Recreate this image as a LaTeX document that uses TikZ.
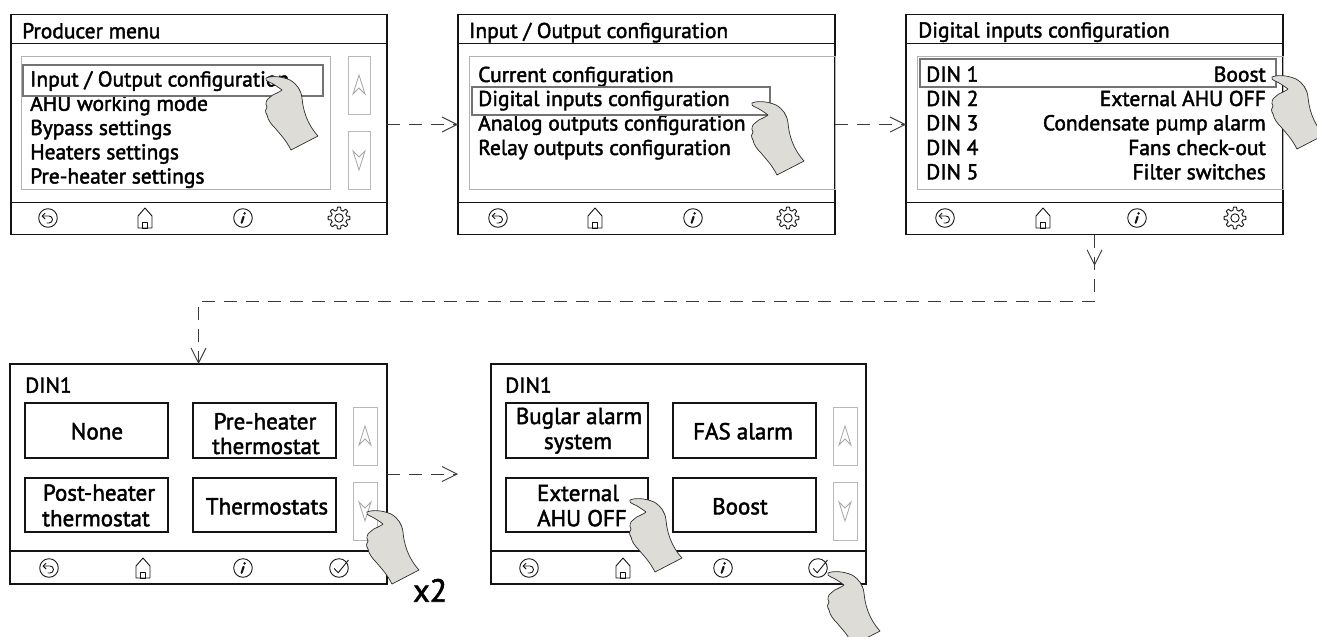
\documentclass[tikz,border=0pt]{standalone}
\usepackage{fontspec}
\setmainfont{PT Sans}[FakeBold=2]
\usetikzlibrary{arrows.meta,decorations.markings}

\definecolor{ink}{HTML}{141414}
\definecolor{handfill}{HTML}{DEDCD6}
\definecolor{flowgray}{HTML}{3A3A3A}

\begin{document}
\begin{tikzpicture}[x=1pt,y=1pt,
  panel/.style={draw=ink, line width=1.3pt, rectangle, inner sep=0pt, outer sep=0pt,
    minimum width=376pt, minimum height=220pt, anchor=north west},
  sepline/.style={draw=ink, line width=1pt},
  thicksep/.style={draw=ink, line width=2pt},
  listbox/.style={draw=black!30, line width=0.9pt},
  selbox/.style={draw=black!55, line width=2.6pt},
  scrollbox/.style={draw=black!28, line width=0.9pt},
  btn/.style={draw=ink, line width=1.2pt, rectangle, inner sep=0pt, outer sep=0pt,
    minimum width=143pt, minimum height=55pt, anchor=north west},
  menutxt/.style={anchor=base west, inner sep=0pt, font=\fontsize{21.5}{24}\selectfont, text=black},
  righttxt/.style={anchor=base east, inner sep=0pt, font=\fontsize{21.5}{24}\selectfont, text=black},
  btntxt/.style={anchor=base, inner sep=0pt, font=\fontsize{23}{25}\selectfont, text=black},
  icon/.style={draw=ink, line width=0.9pt, line join=round},
  flow/.style={draw=flowgray, line width=0.9pt, dash pattern=on 13pt off 9pt,
    -{Straight Barb[length=15pt,width=15pt,line width=0.9pt]}},
  flowline/.style={draw=flowgray, line width=0.9pt, dash pattern=on 13pt off 9pt},
  midbarb/.style={postaction={decorate}, decoration={markings,
    mark=at position 0.47 with {\arrow{Straight Barb[length=15pt,width=15pt,line width=0.9pt]}}}},
  backicon/.pic={
    \draw[icon] (0,0) circle (9.3);
    \draw[icon, {Straight Barb[length=3pt,width=6pt,line width=0.9pt]}-]
      (-6.5,2) -- (1,2) arc[start angle=90, end angle=-90, radius=3.5] -- (-1.5,-5);
  },
  homeicon/.pic={
    \draw[icon] (-7,-10) -- (-7,2) -- (0,10) -- (7,2) -- (7,-10) -- cycle;
    \draw[icon] (-2.5,-10) rectangle (2.5,-4);
  },
  infoicon/.pic={
    \draw[icon] (0,0) circle (9.3);
    \draw[ink, line width=2.1pt, line cap=round] (-1.4,-4.8) -- (0.6,1.3);
    \fill[ink] (1.6,4.6) circle (1.4);
  },
  gearicon/.pic={
    \draw[icon] plot[domain=0:360, samples=193, variable=\t]
      (\t:{9.4+1.5*max(-1,min(1,2.2*cos(8*\t)))}) -- cycle;
    \draw[icon] (0,0) circle (4.2);
  },
  checkicon/.pic={
    \draw[icon] (0,0) circle (9.3);
    \draw[icon] (-4.8,-0.5) -- (-0.8,-4.8) -- (9.5,8);
  },
  upglyph/.pic={
    \draw[draw=black!35, line width=0.8pt, line join=miter] (0,10) -- (6,-9) -- (0,-3) -- (-6,-9) -- cycle;
  },
  downglyph/.pic={
    \draw[draw=black!35, line width=0.8pt, line join=miter] (0,-10) -- (6,9) -- (0,3) -- (-6,9) -- cycle;
  },
  hand/.pic={
    \filldraw[fill=handfill, draw=ink!90, line width=0.7pt, line join=round]
      (0,0) .. controls (6,2.5) and (16,1.5) .. (24,-2)
      .. controls (31,-6) and (35,-12) .. (36,-20)
      .. controls (37,-32) and (41,-46) .. (52,-58)
      -- (25,-72)
      .. controls (20,-62) and (14,-56) .. (9,-50)
      .. controls (5,-46) and (2,-42) .. (1,-37)
      .. controls (-1,-34) and (-1,-31) .. (1,-29)
      .. controls (-1,-26) and (0,-22) .. (3,-20)
      .. controls (5,-18) and (8,-16) .. (11,-15)
      .. controls (13,-14) and (15,-13) .. (16,-12)
      .. controls (12,-9) and (7,-5.5) .. (3,-4)
      .. controls (1,-3.2) and (-1.5,-1.8) .. (0,0) -- cycle;
  }
]
\useasboundingbox (0,0) rectangle (1317,-637);

% ---------- Producer menu ----------
\node[panel] (p1) at (11,-14.5) {};
\draw[sepline] (11,-43) -- (387,-43);
\draw[sepline] (11,-202) -- (387,-202);
\draw[listbox] (21,-56) rectangle (330,-189);
\draw[scrollbox] (348,-56) rectangle (370,-114);
\draw[scrollbox] (348,-131) rectangle (370,-189);
\pic at (359,-85) {upglyph};
\pic at (359,-160) {downglyph};
\node[menutxt] (p1t) at (22,-38.3) {Producer menu};
\node[menutxt] (p1a) at (30,-86.5) {Input / Output configuration};
\node[menutxt] (p1b) at (30,-110.8) {AHU working mode};
\node[menutxt] (p1c) at (30,-135) {Bypass settings};
\node[menutxt] (p1d) at (30,-159.3) {Heaters settings};
\node[menutxt] (p1e) at (30,-183.5) {Pre-heater settings};
\draw[selbox] (23,-65) rectangle (323,-96);
\pic at (48,-218) {backicon};
\pic at (145,-218) {homeicon};
\pic at (243,-218) {infoicon};
\pic at (339,-218) {gearicon};

% ---------- Input / Output configuration ----------
\node[panel, minimum width=377pt] (p2) at (458,-14.5) {};
\draw[sepline] (458,-43) -- (835,-43);
\draw[sepline] (458,-202) -- (835,-202);
\draw[listbox] (469,-56) rectangle (835,-189);
\node[menutxt] (p2t) at (469,-38) {Input / Output configuration};
\node[menutxt] (p2a) at (478,-82) {Current configuration};
\node[menutxt] (p2b) at (478,-106) {Digital inputs configuration};
\node[menutxt] (p2c) at (478,-130.5) {Analog outputs configuration};
\node[menutxt] (p2d) at (478,-155) {Relay outputs configuration};
\draw[selbox] (472,-87) rectangle (770,-115);
\pic at (498,-218) {backicon};
\pic at (595,-218) {homeicon};
\pic at (693,-218) {infoicon};
\pic at (788,-218) {gearicon};

% ---------- Digital inputs configuration ----------
\node[panel, minimum width=377pt] (p3) at (906,-14.5) {};
\draw[sepline] (906,-43) -- (1283,-43);
\draw[sepline] (906,-202) -- (1283,-202);
\draw[listbox] (917,-56) rectangle (1283,-189);
\node[menutxt] (p3t) at (918,-37.5) {Digital inputs configuration};
\node[menutxt] (d1) at (926,-81.7) {DIN 1};
\node[menutxt] (d2) at (926,-106) {DIN 2};
\node[menutxt] (d3) at (926,-130.3) {DIN 3};
\node[menutxt] (d4) at (926,-155) {DIN 4};
\node[menutxt] (d5) at (926,-179.3) {DIN 5};
\node[righttxt] (v1) at (1266,-81.7) {Boost};
\node[righttxt] (v2) at (1266,-106) {External AHU OFF};
\node[righttxt] (v3) at (1266,-130.3) {Condensate pump alarm};
\node[righttxt] (v4) at (1266,-155) {Fans check-out};
\node[righttxt] (v5) at (1266,-179.3) {Filter switches};
\draw[selbox] (920,-59) rectangle (1276,-87);
\pic at (945,-218) {backicon};
\pic at (1043,-218) {homeicon};
\pic at (1137,-218) {infoicon};
\pic at (1235,-218) {gearicon};

% ---------- DIN1, first page of choices ----------
\node[panel, minimum width=377pt] (p4) at (10,-364) {};
\draw[thicksep] (10,-551) -- (387,-551);
\node[menutxt] (p4t) at (25,-392.7) {DIN1};
\node[btn] (b4a) at (25,-403) {};
\node[btn] (b4b) at (193,-403) {};
\node[btn, minimum height=54pt] (b4c) at (25,-478) {};
\node[btn, minimum height=54pt] (b4d) at (193,-478) {};
\node[btntxt] (t4a) at (97,-439.3) {None};
\node[btntxt] (t4b1) at (265,-429.3) {Pre-heater};
\node[btntxt] (t4b2) at (266,-454) {thermostat};
\node[btntxt] (t4c1) at (99,-500.7) {Post-heater};
\node[btntxt] (t4c2) at (96,-526.2) {thermostat};
\node[btntxt] (t4d) at (267,-514.3) {Thermostats};
\draw[scrollbox] (353,-407) rectangle (377,-465);
\draw[scrollbox] (353,-482) rectangle (377,-540);
\pic at (365,-436) {upglyph};
\pic at (365,-511) {downglyph};
\pic at (49,-568) {backicon};
\pic at (143,-568) {homeicon};
\pic at (243,-568) {infoicon};
\pic at (339,-568) {checkicon};
\node[anchor=base west, inner sep=0pt, font=\fontsize{32}{36}\selectfont, text=black] (x2) at (413,-601.7) {x2};

% ---------- DIN1, second page of choices ----------
\node[panel, minimum width=375pt] (p5) at (491,-364) {};
\draw[thicksep] (491,-551) -- (866,-551);
\node[menutxt] (p5t) at (505,-392.7) {DIN1};
\node[btn, minimum width=142pt] (b5a) at (506,-403) {};
\node[btn] (b5b) at (673,-403) {};
\node[btn, minimum width=142pt, minimum height=54pt] (b5c) at (506,-478) {};
\node[btn, minimum height=54pt] (b5d) at (673,-478) {};
\node[btntxt] (t5a1) at (579,-424) {Buglar alarm};
\node[btntxt] (t5a2) at (578,-449) {system};
\node[btntxt] (t5b) at (743,-439.3) {FAS alarm};
\node[btntxt] (t5c1) at (578,-501) {External};
\node[btntxt] (t5c2) at (582,-526.2) {AHU OFF};
\node[btntxt] (t5d) at (740,-514.3) {Boost};
\draw[scrollbox] (833,-407) rectangle (857,-465);
\draw[scrollbox] (833,-482) rectangle (857,-540);
\pic at (845,-436) {upglyph};
\pic at (845,-511) {downglyph};
\pic at (529,-568) {backicon};
\pic at (623,-568) {homeicon};
\pic at (723,-568) {infoicon};
\pic at (818,-568) {checkicon};

% ---------- connectors ----------
\draw[flow] (p1.east) -- (p2.west);
\draw[flow] (p2.east) -- (p3.west);
\coordinate (bend) at ([yshift=-66.5pt]p3.south);
\draw[flowline, midbarb] (p3.south) -- (bend);
\draw[flow] (bend) -| (p4.north);
\draw[flow, shorten >=33pt] (p4.east) -- (p5.west);

% ---------- pointing hands ----------
\pic at (266,-78) {hand};
\pic at (752,-103) {hand};
\pic at (1272,-77) {hand};
\pic at (367,-512) {hand};
\pic at (630,-500) {hand};
\pic at (828,-573) {hand};
\end{tikzpicture}
\end{document}
